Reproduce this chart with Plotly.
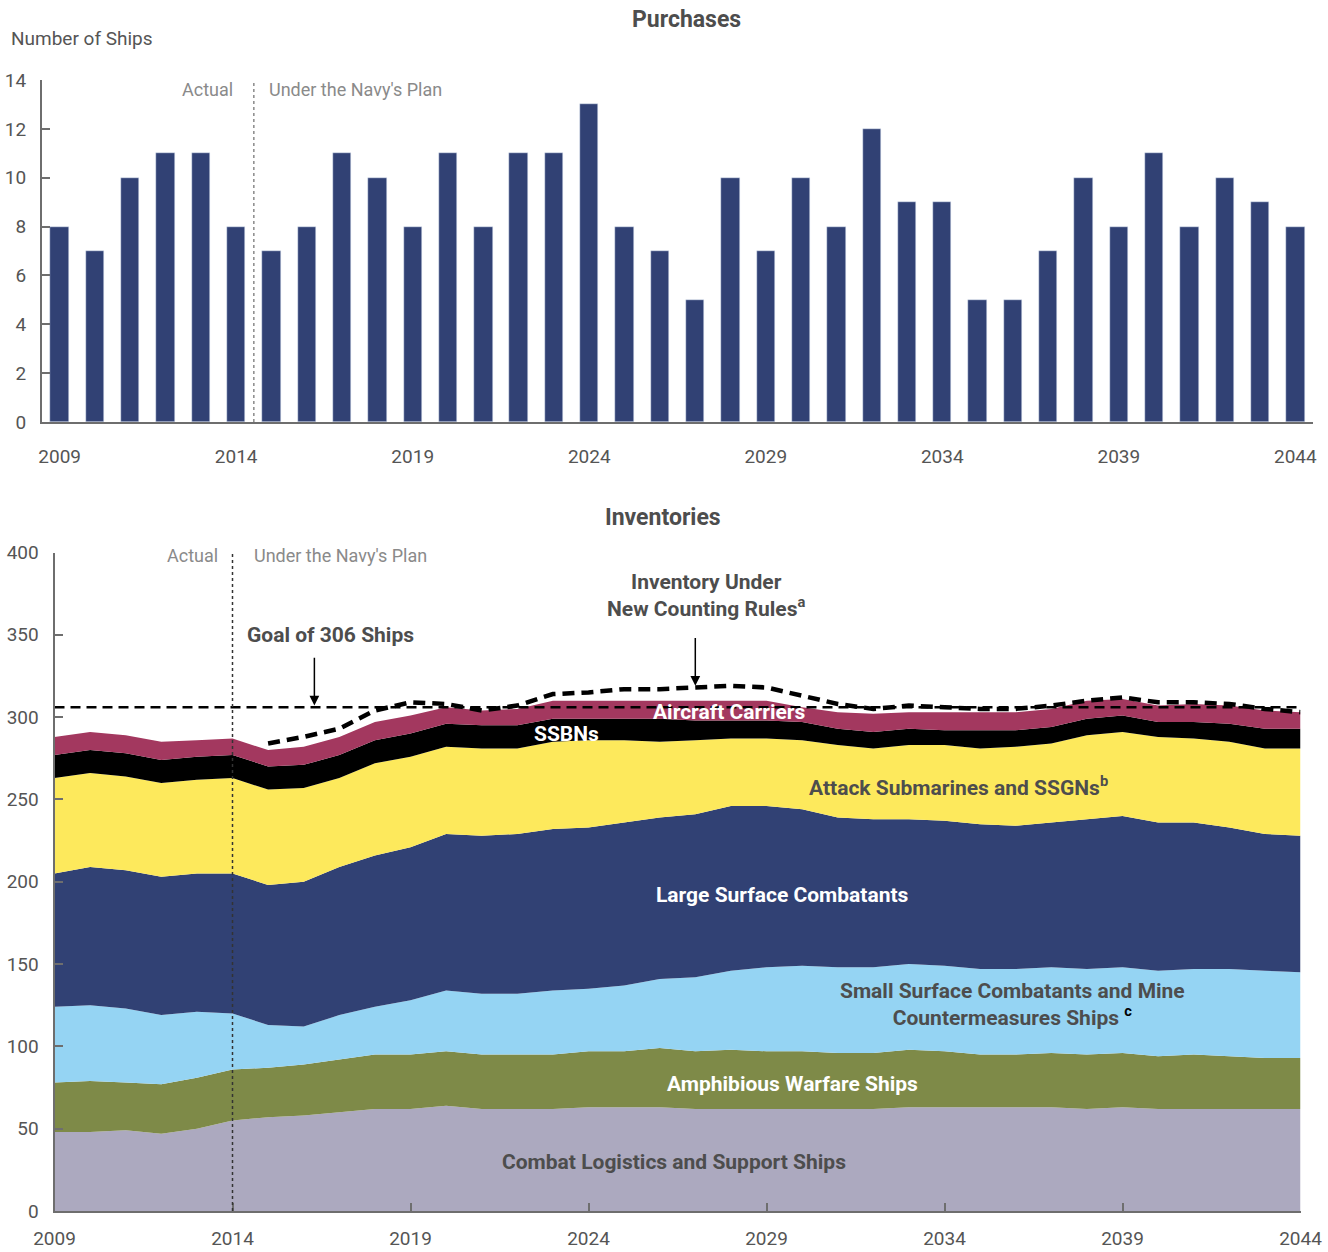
import plotly.graph_objects as go

# ---------------- data ----------------
years = list(range(2009, 2045))
purchases = [8, 7, 10, 11, 11, 8, 7, 8, 11, 10, 8, 11, 8, 11, 11, 13, 8, 7, 5,
             10, 7, 10, 8, 12, 9, 9, 5, 5, 7, 10, 8, 11, 8, 10, 9, 8]

combat_logistics = [48, 48, 49, 47, 50, 55, 57, 58, 60, 62, 62, 64, 62, 62, 62, 63, 63, 63, 62,
                    62, 62, 62, 62, 62, 63, 63, 63, 63, 63, 62, 63, 62, 62, 62, 62, 62]
amphibious = [30, 31, 29, 30, 31, 31, 30, 31, 32, 33, 33, 33, 33, 33, 33, 34, 34, 36, 35,
              36, 35, 35, 34, 34, 35, 34, 32, 32, 33, 33, 33, 32, 33, 32, 31, 31]
small_surface = [46, 46, 45, 42, 40, 34, 26, 23, 27, 29, 33, 37, 37, 37, 39, 38, 40, 42, 45,
                 48, 51, 52, 52, 52, 52, 52, 52, 52, 52, 52, 52, 52, 52, 53, 53, 52]
large_surface = [81, 84, 84, 84, 84, 85, 85, 88, 90, 92, 93, 95, 96, 97, 98, 98, 99, 98, 99,
                 100, 98, 95, 91, 90, 88, 88, 88, 87, 88, 91, 92, 90, 89, 86, 83, 83]
attack_subs = [58, 57, 57, 57, 57, 58, 58, 57, 54, 56, 55, 53, 53, 52, 53, 53, 50, 46, 45,
               41, 41, 42, 44, 43, 45, 46, 46, 48, 48, 51, 51, 52, 51, 52, 52, 53]
ssbns = [14, 14, 14, 14, 14, 14, 14, 14, 14, 14, 14, 14, 14, 14, 14, 13, 13, 14, 12,
         11, 11, 11, 10, 10, 10, 9, 11, 10, 10, 10, 10, 9, 10, 11, 12, 12]
carriers = [11, 11, 11, 11, 10, 10, 10, 11, 11, 11, 11, 10, 9, 10, 11, 11, 11, 11, 12,
            12, 12, 9, 10, 11, 10, 11, 11, 11, 11, 11, 10, 10, 11, 11, 11, 10]

new_rules_years = list(range(2015, 2045))
new_rules_inventory = [284, 288, 293, 304, 309, 308, 304, 307, 314, 315, 317, 317, 318, 319, 318,
                       313, 308, 305, 307, 306, 305, 305, 307, 310, 312, 309, 309, 308, 305, 303]

goal = 306
tick_years = [2009, 2014, 2019, 2024, 2029, 2034, 2039, 2044]
purchase_ticks = [0, 2, 4, 6, 8, 10, 12, 14]
inventory_ticks = [0, 50, 100, 150, 200, 250, 300, 350, 400]

# ---------------- styling ----------------
FONT = "Roboto, Liberation Sans Narrow, sans-serif"
TXT = "#4d4d4d"
GRAYTXT = "#8a8a8a"
AXIS = "#6e6e6e"
NAVY = "#314174"

W, H = 1328, 1252

layers = [
    ("Combat Logistics and Support Ships", combat_logistics, "#aca9bf"),
    ("Amphibious Warfare Ships", amphibious, "#7e8a48"),
    ("Small Surface Combatants and Mine Countermeasures Ships", small_surface, "#95d4f3"),
    ("Large Surface Combatants", large_surface, "#314174"),
    ("Attack Submarines and SSGNs", attack_subs, "#fde95c"),
    ("SSBNs", ssbns, "#000000"),
    ("Aircraft Carriers", carriers, "#a3385f"),
]

fig = go.Figure()

# Purchases bars
fig.add_trace(go.Bar(x=years, y=purchases, marker_color=NAVY, width=0.52,
                     xaxis="x", yaxis="y", showlegend=False))

# Inventory stacked areas
for name, vals, col in layers:
    fig.add_trace(go.Scatter(x=years, y=vals, name=name, stackgroup="inv",
                             mode="lines", line=dict(width=0, color=col),
                             fillcolor=col, xaxis="x2", yaxis="y2", showlegend=False))

# Goal line
fig.add_trace(go.Scatter(x=[years[0], years[-1]], y=[goal, goal], mode="lines",
                         line=dict(color="black", width=2.5, dash="10px,6px"),
                         xaxis="x2", yaxis="y2", showlegend=False))
# New counting rules line
fig.add_trace(go.Scatter(x=new_rules_years, y=new_rules_inventory, mode="lines",
                         line=dict(color="black", width=4.5, dash="12px,7px"),
                         xaxis="x2", yaxis="y2", showlegend=False))

top_dom = [1 - 422 / H, 1 - 80 / H]
bot_dom = [1 - 1211 / H, 1 - 552.5 / H]

axis_common = dict(showgrid=False, zeroline=False, showline=True, linecolor=AXIS, linewidth=2,
                   automargin=False,
                   tickfont=dict(family=FONT, size=19, color="#555555"))

fig.update_layout(
    width=W, height=H,
    margin=dict(l=0, r=0, t=0, b=0, autoexpand=False),
    paper_bgcolor="white", plot_bgcolor="white",
    font=dict(family=FONT, color=TXT),
    bargap=0,
    xaxis=dict(domain=[42 / W, 1313 / W], range=[2008.5, 2044.5], tickvals=tick_years,
               ticks="", ticklabelstandoff=16, anchor="y", **axis_common),
    yaxis=dict(domain=top_dom, range=[0, 14], tickvals=purchase_ticks, ticks="inside",
               ticklen=8, tickcolor=AXIS, tickwidth=1.5, ticklabelstandoff=10, anchor="x",
               **axis_common),
    xaxis2=dict(domain=[54.5 / W, 1300.5 / W], range=[2009, 2044], tickvals=tick_years,
                ticks="inside", ticklen=8, tickcolor=AXIS, tickwidth=1.5, ticklabelstandoff=9,
                anchor="y2", **axis_common),
    yaxis2=dict(domain=bot_dom, range=[0, 400], tickvals=inventory_ticks, ticks="inside",
                ticklen=8, tickcolor=AXIS, tickwidth=1.5, ticklabelstandoff=10, anchor="x2",
                **axis_common),
)

shapes = [
    dict(type="line", xref="x", yref="y", x0=2014.5, x1=2014.5, y0=0, y1=14,
         line=dict(color="#8a8a8a", width=1.5, dash="dot"), layer="above"),
    dict(type="line", xref="x2", yref="y2", x0=2014, x1=2014, y0=0, y1=400,
         line=dict(color="#333333", width=1.5, dash="dot"), layer="above"),
]
fig.update_layout(shapes=shapes)

def ann(text, x, y, xref="paper", yref="paper", size=21, color=TXT, bold=False,
        xanchor="center", yanchor="middle", align="center"):
    t = f"<b>{text}</b>" if bold else text
    return dict(text=t, x=x, y=y, xref=xref, yref=yref, showarrow=False,
                font=dict(family=FONT, size=size, color=color),
                xanchor=xanchor, yanchor=yanchor, align=align)

annotations = [
    ann("Purchases", 686 / W, 1 - 20 / H, size=23, bold=True),
    ann("Inventories", 663 / W, 1 - 517 / H, size=23, bold=True),
    ann("Number of Ships", 9 / W, 1 - 38 / H, size=19, color="#555555", xanchor="left"),
    ann("Actual", 235 / W, 1 - 90 / H, color=GRAYTXT, size=18, xanchor="right"),
    ann("Under the Navy's Plan", 267 / W, 1 - 90 / H, color=GRAYTXT, size=18, xanchor="left"),
    ann("Actual", 220 / W, 1 - 555 / H, color=GRAYTXT, size=18, xanchor="right"),
    ann("Under the Navy's Plan", 252 / W, 1 - 555 / H, color=GRAYTXT, size=18, xanchor="left"),
    # area labels
    ann("Aircraft Carriers", 2027.95, 303.2, "x2", "y2", color="white", bold=True),
    ann("SSBNs", 2023.37, 289.8, "x2", "y2", color="white", bold=True),
    ann("Attack Submarines and SSGNs<sup>b</sup>", 2034.4, 258, "x2", "y2", bold=True),
    ann("Large Surface Combatants", 2029.46, 192, "x2", "y2", color="white", bold=True),
    ann("Small Surface Combatants and Mine<br>Countermeasures Ships <span style='color:black'><sup>c</sup></span>",
        2035.9, 125.6, "x2", "y2", bold=True),
    ann("Amphibious Warfare Ships", 2029.74, 77, "x2", "y2", color="white", bold=True),
    ann("Combat Logistics and Support Ships", 2026.4, 29.5, "x2", "y2", bold=True),
    ann("Goal of 306 Ships", 2014.35, 350, "x2", "y2", bold=True, xanchor="left"),
    ann("Inventory Under<br>New Counting Rules<sup>a</sup>", 2027.3, 374, "x2", "y2", bold=True),
]
# arrows
annotations.append(dict(text="", x=2016.3, y=goal + 1, xref="x2", yref="y2",
                        ax=2016.3, ay=337, axref="x2", ayref="y2", showarrow=True,
                        arrowhead=2, arrowsize=1.3, arrowwidth=1.5, arrowcolor="black"))
annotations.append(dict(text="", x=2027, y=319, xref="x2", yref="y2",
                        ax=2027, ay=349, axref="x2", ayref="y2", showarrow=True,
                        arrowhead=2, arrowsize=1.3, arrowwidth=1.5, arrowcolor="black"))
fig.update_layout(annotations=annotations)

fig.write_html("out.html", config={"displayModeBar": False},
               post_script="document.body.style.margin='0px';")
